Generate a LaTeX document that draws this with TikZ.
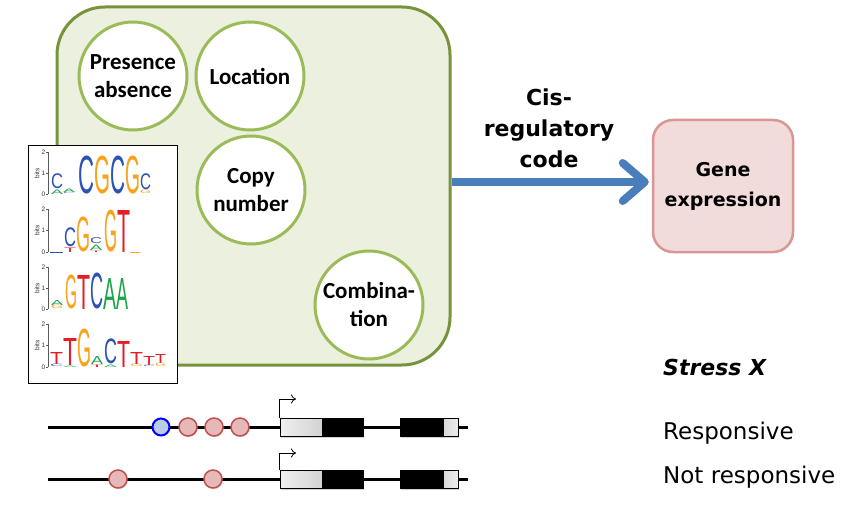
\documentclass[tikz,border=0pt]{standalone}
\usepackage{fontspec}
\usetikzlibrary{arrows.meta,shadows}
\newfontfamily\carl{Carlito}
\newfontfamily\dvs{DejaVu Sans}
\newfontfamily\logof{Liberation Sans}
\definecolor{panelfill}{HTML}{EBF1DE}
\definecolor{paneldraw}{HTML}{77933C}
\definecolor{circdraw}{HTML}{9BBB59}
\definecolor{arrowblue}{HTML}{4A7EBB}
\definecolor{genefill}{HTML}{F2DCDB}
\definecolor{genedraw}{HTML}{D99694}
\definecolor{lgblue}{HTML}{2A53B4}
\definecolor{lgorange}{HTML}{F7A31C}
\definecolor{lgred}{HTML}{E31E26}
\definecolor{lggreen}{HTML}{1BA548}
\definecolor{tfred}{HTML}{E6B9B8}
\definecolor{tfreddraw}{HTML}{C0504D}
\definecolor{tfblue}{HTML}{B9CDE5}
\newcounter{lg}
\newcommand\LG[6]{\stepcounter{lg}\node[inner sep=0pt,outer sep=0pt,anchor=south west] (lg\thelg) at (#1,#2) {\resizebox*{#3pt}{#4pt}{\color{#5}\logof #6}};}
\newcommand\LAX[3]{%
  \draw[lgaxis] (48,#1) -- (48,#2);
  \foreach \yy/\lab in {#1/2,{(#1+#2)/2}/1,#2/0}{
    \draw[lgaxis] (46,{\yy}) -- (48,{\yy});
    \node[lgnum,anchor=east] (ln#3\lab) at (46,{\yy}) {\lab};
  }
  \node[lgnum,rotate=90] (lb#3) at (37,{(#1+#2)/2}) {bits};
}
\begin{document}
\begin{tikzpicture}[x=1pt,y=-1pt,
  feature/.style={circle,draw=circdraw,line width=3pt,fill=white,minimum size=108pt,inner sep=0pt,align=center,font=\carl\bfseries\fontsize{23}{28}\selectfont},
  lgaxis/.style={draw=gray!70!black,line width=0.5pt},
  lgnum/.style={inner sep=0.5pt,font=\logof\fontsize{6.5}{7}\selectfont,text=gray!40!black},
  track/.style={line width=3pt,black},
  tfr/.style={circle,draw=tfreddraw,line width=1.5pt,fill=tfred,minimum size=18pt,inner sep=0pt,drop shadow={shadow xshift=0.8pt,shadow yshift=-1.2pt,opacity=0.3}},
  tfb/.style={circle,draw=blue,line width=2pt,fill=tfblue,minimum size=17pt,inner sep=0pt},
  exg/.style={rectangle,draw=black,line width=0.8pt,left color=gray!12,right color=gray!35,inner sep=0pt,minimum height=18pt,drop shadow={shadow xshift=1pt,shadow yshift=-1.5pt,opacity=0.35}},
  exb/.style={rectangle,draw=black,line width=0.8pt,fill=black,inner sep=0pt,minimum height=18pt,drop shadow={shadow xshift=1pt,shadow yshift=-1.5pt,opacity=0.35}},
  prom/.style={line width=0.8pt,black,-{To[length=5pt,width=9pt]}},
  lbl/.style={inner sep=0pt,font=\dvs\fontsize{23}{28}\selectfont}
]
\useasboundingbox (0,0) rectangle (845,505);

% panel
\node[rectangle,rounded corners=48pt,draw=paneldraw,line width=3pt,fill=panelfill,minimum width=393pt,minimum height=358pt] (panel) at (253.5,186) {};

% feature circles
\node[feature] (pa) at (133,76) {Presence\\absence};
\node[feature] (loc) at (250,76) {Location};
\node[feature] (cn) at (251,190) {Copy\\number};
\node[feature] (comb) at (369,305) {Combina-\\tion};

% logo box
\node[rectangle,draw=black,line width=1pt,fill=white,minimum width=149pt,minimum height=237pt] (logo) at (102.5,264.5) {};

% logo axes
\LAX{152}{194}{a}
\LAX{209}{252}{b}
\LAX{267}{309}{c}
\LAX{324}{367}{d}

% logo row 1
\LG{51}{194}{12}{4.5}{lggreen}{A}
\LG{51}{189}{12}{15}{lgblue}{C}
\LG{63}{194}{12}{1.5}{lgblue}{C}
\LG{63}{192}{12}{3.5}{lggreen}{A}
\LG{78}{194}{16}{38}{lgblue}{C}
\LG{94}{194}{16}{38}{lgorange}{G}
\LG{110}{194}{15}{38}{lgblue}{C}
\LG{125}{194}{15}{38}{lgorange}{G}
\LG{140}{194}{11}{3.5}{lgorange}{G}
\LG{140}{190}{11}{16}{lgblue}{C}

% logo row 2
\draw[lgblue,line width=0.6pt] (50,252) -- (63,252);
\LG{64}{252}{12}{4.5}{lgred}{T}
\LG{64}{247}{12}{19}{lgblue}{C}
\LG{76}{252}{14}{35}{lgorange}{G}
\LG{90}{252}{12}{1.5}{lgred}{T}
\LG{90}{250}{12}{5.5}{lggreen}{A}
\LG{90}{244}{12}{6}{lgblue}{C}
\LG{104}{252}{13}{42}{lgorange}{G}
\LG{117}{252}{13}{42}{lgred}{T}
\draw[lgorange,line width=0.6pt] (130,252) -- (140,252);

% logo row 3
\LG{51}{309}{12}{3.5}{lgorange}{G}
\LG{51}{305}{12}{5}{lggreen}{A}
\LG{65}{309}{12}{34}{lgorange}{G}
\LG{77}{309}{13}{34}{lgred}{T}
\LG{90}{309}{13}{36}{lgblue}{C}
\LG{103}{309}{13}{31}{lggreen}{A}
\LG{116}{309}{12}{31}{lggreen}{A}

% logo row 4
\LG{50}{367}{13}{2.5}{lgblue}{C}
\LG{50}{364}{13}{12}{lgred}{T}
\LG{63}{367}{14}{1.5}{lggreen}{A}
\LG{63}{365}{14}{27}{lgred}{T}
\LG{77}{367}{14}{38}{lgorange}{G}
\LG{91}{367}{12}{2.5}{lgred}{T}
\LG{91}{364}{12}{8}{lggreen}{A}
\LG{104}{367}{13}{2.5}{lggreen}{A}
\LG{104}{364}{13}{25}{lgblue}{C}
\LG{117}{367}{13}{26}{lgred}{T}
\LG{130}{367}{13}{2.5}{lgorange}{G}
\LG{130}{364}{13}{12}{lgred}{T}
\LG{143}{367}{12}{1.5}{lgblue}{C}
\LG{143}{365}{12}{9}{lgred}{T}
\LG{155}{367}{11}{3.5}{lgorange}{G}
\LG{155}{363}{11}{9}{lgred}{T}

% gene expression box and arrow
\node[rectangle,rounded corners=20pt,draw=genedraw,line width=2.5pt,fill=genefill,minimum width=140pt,minimum height=132pt,align=center,font=\dvs\bfseries\fontsize{19}{30}\selectfont] (ge) at (723,186) {Gene\\expression};
\coordinate (atip) at ([yshift=4pt]ge.west);
\draw[arrowblue,line width=8pt,-{Straight Barb[length=22pt,width=38pt,round]}] (panel.east |- atip) -- ([xshift=-3pt]atip);
\node[align=center,inner sep=0pt,font=\dvs\bfseries\fontsize{22}{31}\selectfont] (cis) at (549,128) {Cis-\\regulatory\\code};

% labels
\node[lbl,anchor=base west,font=\dvs\bfseries\itshape\fontsize{22}{26}\selectfont] (sx) at (663,375) {Stress X};
\node[lbl,anchor=base west] (resp) at (663,439) {Responsive};
\node[lbl,anchor=base west] (nresp) at (663,483) {Not responsive};

% track 1
\coordinate (t1s) at (48,427);
\coordinate (t1e) at (468,427);
\draw[track] (t1s) -- (t1e);
\node[tfb] (b1) at (161,427) {};
\node[tfr] (r1) at (188,427) {};
\node[tfr] (r2) at (214,427) {};
\node[tfr] (r3) at (240,427) {};
\node[exg,minimum width=42pt] (x1a) at (301,427) {};
\node[exb,minimum width=41pt] (x1b) at (342.5,427) {};
\node[exb,minimum width=43pt] (x1c) at (421.5,427) {};
\node[exg,minimum width=15pt,left color=gray!30,right color=gray!15] (x1d) at (450.5,427) {};
\coordinate (p1) at (296,399);
\draw[prom] (x1a.north west) |- (p1);

% track 2
\coordinate (t2s) at (48,479);
\coordinate (t2e) at (468,479);
\draw[track] (t2s) -- (t2e);
\node[tfr] (r4) at (118,479) {};
\node[tfr] (r5) at (213,479) {};
\node[exg,minimum width=42pt] (x2a) at (301,479) {};
\node[exb,minimum width=41pt] (x2b) at (342.5,479) {};
\node[exb,minimum width=43pt] (x2c) at (421.5,479) {};
\node[exg,minimum width=15pt,left color=gray!30,right color=gray!15] (x2d) at (450.5,479) {};
\coordinate (p2) at (296,453);
\draw[prom] (x2a.north west) |- (p2);
\end{tikzpicture}
\end{document}
